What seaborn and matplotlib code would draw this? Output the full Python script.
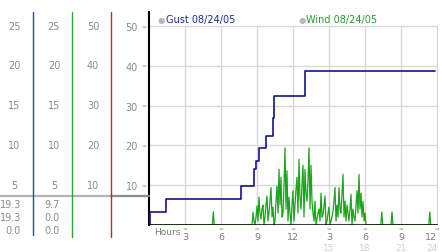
import matplotlib
matplotlib.use("Agg")
import matplotlib.pyplot as plt
import matplotlib.transforms as mtransforms
import seaborn as sns
import pandas as pd

# ---------------- data ----------------
gust_hours = [0.0, 0.08, 1.38, 7.64, 8.78, 8.92, 9.2, 9.75, 10.35, 10.45, 13.0, 23.83]
gust_values = [0.0, 3.3, 6.5, 9.7, 14.0, 16.0, 19.4, 22.3, 27.0, 32.3, 38.6, 38.6]

wind_dense_start = 8.5
wind_dense_step = 1.0 / 12.0
wind_dense_values = [0, 0, 3.2, 1, 0, 2, 4.8, 1, 7, 3,
                     1.5, 4, 5, 0, 2, 5, 7.3, 1, 3, 6,
                     9.4, 2, 4.5, 0, 1, 6, 9.8, 3, 14, 5,
                     12, 2, 3, 10, 19.4, 4, 13.6, 1, 7, 3,
                     0, 5, 8.6, 1, 5, 9, 12, 3, 16.5, 7,
                     4, 10, 15, 2, 14, 8, 6, 11, 19.4, 4,
                     15, 6, 3, 1, 6, 0, 1.5, 3, 4, 1,
                     8, 2, 2.5, 5, 7.3, 0, 1, 3, 4.5, 0,
                     1, 2, 3.5, 6, 9.4, 1, 5, 2, 9.4, 4,
                     3, 8, 12.7, 2, 6, 1, 5, 3, 1, 4,
                     7.7, 0, 4, 2, 1, 5, 8.6, 3, 12.7, 4,
                     8, 2, 6, 1, 3, 0, 0]
wind_spike_hours = [5.36, 19.4, 20.25, 23.4]
wind_spike_values = [3.3, 3.3, 3.3, 3.3]

ytick_values = [10, 20, 30, 40, 50]
xtick_hours = [3, 6, 9, 12, 15, 18, 21, 24]
xtick_labels = ["3", "6", "9", "12", "3", "6", "9", "12"]
xtick_second_hours = [15, 18, 21, 24]
xtick_second_labels = ["15", "18", "21", "24"]

col1_labels = ["25", "20", "15", "10", "5"]
col2_labels = ["25", "20", "15", "10", "5"]
col3_labels = ["50", "40", "30", "20", "10"]
col1_stats = ["19.3", "19.3", "0.0"]
col2_stats = ["9.7", "0.0", "0.0"]

gust_legend = "Gust 08/24/05"
wind_legend = "Wind 08/24/05"

# ---------------- build wind series ----------------
wind_h = [0.0]
wind_v = [0.0]
for h, v in zip(wind_spike_hours[:1], wind_spike_values[:1]):
    wind_h += [h - 0.08, h, h + 0.08]
    wind_v += [0, v, 0]
for i, v in enumerate(wind_dense_values):
    wind_h.append(wind_dense_start + i * wind_dense_step)
    wind_v.append(v)
for h, v in zip(wind_spike_hours[1:], wind_spike_values[1:]):
    wind_h += [h - 0.08, h, h + 0.08]
    wind_v += [0, v, 0]
wind_h.append(23.83)
wind_v.append(0.0)

gust_df = pd.DataFrame({"hour": gust_hours, "value": gust_values})
wind_df = pd.DataFrame({"hour": wind_h, "value": wind_v})

# ---------------- figure ----------------
sns.set_style("white")
plt.rcParams["font.family"] = ["DejaVu Sans"]
W, H = 442, 253
fig = plt.figure(figsize=(W / 100, H / 100), dpi=100)


def fx(x):
    return x / W


def fy(y):
    return 1 - y / H


ax_left, ax_right = 149, 438
ax_top, ax_bottom = 13, 226
ax = fig.add_axes([fx(ax_left), fy(ax_bottom), fx(ax_right) - fx(ax_left), fy(ax_top) - fy(ax_bottom)])
ax.set_xlim(0, (ax_right - ax_left) / 12.0)
ax.set_ylim(0, 50 * (ax_bottom - ax_top) / (ax_bottom - 27))

grid_c = "#d9d9d9"
for yv in ytick_values:
    ax.axhline(yv, color=grid_c, lw=1, zorder=0)
ax.vlines(xtick_hours, 0, 50, color=grid_c, lw=1, zorder=0)

sns.lineplot(data=wind_df, x="hour", y="value", ax=ax, color="#1aa51a", lw=0.9, zorder=3)
sns.lineplot(data=gust_df, x="hour", y="value", ax=ax, color="#14148c", lw=1.2,
             drawstyle="steps-post", zorder=4)
ax.axhline(0, color="black", lw=1.8, zorder=5)

for s in ["top", "right", "bottom"]:
    ax.spines[s].set_visible(False)
ax.spines["left"].set_color("black")
ax.spines["left"].set_linewidth(1.5)

ax.set_xlabel("")
ax.set_ylabel("")
ax.set_yticks(ytick_values)
ax.set_yticklabels([str(v) for v in ytick_values])
ax.set_xticks(xtick_hours)
ax.set_xticklabels(xtick_labels)
ax.tick_params(axis="y", length=0, pad=8, labelsize=7, labelcolor="#8a8a8a")
ax.tick_params(axis="x", length=0, pad=5, labelsize=6.8, labelcolor="#7a7a7a")
ax.xaxis.get_majorticklabels()[-1].set_horizontalalignment("right")

# small tick markers
trans_y = mtransforms.blended_transform_factory(ax.transAxes, ax.transData)
for yv in ytick_values:
    ax.text(-0.016, yv, "≈", transform=trans_y, fontsize=4.5, color="#999999",
            ha="center", va="center")
trans_x = mtransforms.blended_transform_factory(ax.transData, ax.transAxes)
for xh in xtick_hours:
    ax.text(xh, -0.014, "≈", transform=trans_x, fontsize=4, color="#999999",
            ha="center", va="center")
for xh, lab in zip(xtick_second_hours, xtick_second_labels):
    ax.text(xh if xh < 24 else 24.05, -0.105, lab, transform=trans_x, fontsize=6.5,
            color="#cfcfcf", ha="center" if xh < 24 else "right", va="center")
fig.text(fx(167), fy(233), "Hours", fontsize=6.5, color="#7a7a7a", ha="center", va="center")

# legend-like labels
fig.text(fx(160.7), fy(20.5), "●", fontsize=6, color="#b8b8b8", ha="center", va="center")
fig.text(fx(166), fy(20), gust_legend, fontsize=7, color="#1a2a9a", ha="left", va="center")
fig.text(fx(301.7), fy(20.5), "●", fontsize=6, color="#b8b8b8", ha="center", va="center")
fig.text(fx(306), fy(20), wind_legend, fontsize=7, color="#22a022", ha="left", va="center")

# ---------------- left panel ----------------
lab_c = "#8a8a8a"
row_y = [27, 66, 106, 146, 186]
for y, a, b, c in zip(row_y, col1_labels, col2_labels, col3_labels):
    fig.text(fx(14.5), fy(y), a, fontsize=7, color=lab_c, ha="center", va="center")
    fig.text(fx(54), fy(y), b, fontsize=7, color=lab_c, ha="center", va="center")
    fig.text(fx(93), fy(y), c, fontsize=7, color=lab_c, ha="center", va="center")
stat_y = [205.5, 218.5, 231.5]
for y, a, b in zip(stat_y, col1_stats, col2_stats):
    fig.text(fx(21), fy(y), a, fontsize=7, color=lab_c, ha="right", va="center")
    fig.text(fx(60), fy(y), b, fontsize=7, color=lab_c, ha="right", va="center")

line_ax = fig.add_axes([0, 0, 1, 1], facecolor="none")
line_ax.set_xlim(0, W)
line_ax.set_ylim(H, 0)
line_ax.axis("off")
line_ax.plot([0, 111], [196.5, 196.5], color="#b4b4b4", lw=1.6)
line_ax.plot([111, 149], [196.5, 196.5], color="#8c8c8c", lw=1.6)
line_ax.plot([33.3, 33.3], [12.5, 236], color="#2a4aa8", lw=1)
line_ax.plot([72.3, 72.3], [12.5, 238], color="#30a030", lw=1)
line_ax.plot([111, 111], [12.5, 238], color="#b03030", lw=1)

fig.savefig("out.png", dpi=100)
